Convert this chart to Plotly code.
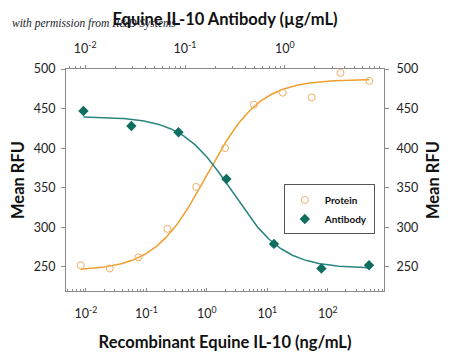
import numpy as np
import plotly.graph_objects as go

# ---- data ----
protein_conc = [0.0082, 0.0247, 0.074, 0.222, 0.667, 2.0, 6.0, 18.0, 54.0, 162.0, 486.0]   # ng/mL
protein_rfu = [252, 248, 262, 298, 351, 400, 455, 470, 464, 495, 485]

antibody_conc = [0.0096, 0.029, 0.086, 0.26, 0.78, 2.33, 7.0]   # ug/mL
antibody_rfu = [447, 428, 420, 361, 279, 248, 252]

# 4-parameter logistic fit parameters (bottom, top, EC50, hill)
protein_fit = dict(bottom=245, top=487, ec50=1.0, hill=1.0)
antibody_fit = dict(bottom=248, top=440, ec50=0.30, hill=1.7)

bottom_tickvals = [0.01, 0.1, 1, 10, 100]
bottom_ticktext = ["10<sup>-2</sup>", "10<sup>-1</sup>", "10<sup>0</sup>", "10<sup>1</sup>", "10<sup>2</sup>"]
top_tickvals = [0.01, 0.1, 1]
top_ticktext = ["10<sup>-2</sup>", "10<sup>-1</sup>", "10<sup>0</sup>"]
y_tickvals = [250, 300, 350, 400, 450, 500]
minor_multipliers = [2, 3, 4, 5, 6, 7, 8, 9]
bottom_decades = [0.001, 0.01, 0.1, 1, 10, 100]
top_decades = [0.001, 0.01, 0.1, 1]

bottom_minor = [d * m for d in bottom_decades for m in minor_multipliers]
top_minor = [d * m for d in top_decades for m in minor_multipliers]


def four_pl(x, p, rising=True):
    x = np.asarray(x)
    if rising:
        return p["bottom"] + (p["top"] - p["bottom"]) / (1 + (p["ec50"] / x) ** p["hill"])
    return p["bottom"] + (p["top"] - p["bottom"]) / (1 + (x / p["ec50"]) ** p["hill"])


px = np.logspace(np.log10(protein_conc[0]), np.log10(protein_conc[-1]), 200)
ax = np.logspace(np.log10(antibody_conc[0]), np.log10(antibody_conc[-1]), 200)

ORANGE = "#F0A030"
ORANGE_M = "#F2AE62"
TEAL = "#2A8580"
TEAL_M = "#0F6E60"
AXIS = "#8a8a8a"
FONT = "Lato, Roboto, sans-serif"

fig = go.Figure()
fig.add_trace(go.Scatter(x=px, y=four_pl(px, protein_fit, True), mode="lines",
                         line=dict(color=ORANGE, width=1.5), showlegend=False,
                         hoverinfo="skip", xaxis="x", yaxis="y"))
fig.add_trace(go.Scatter(x=ax, y=four_pl(ax, antibody_fit, False), mode="lines",
                         line=dict(color=TEAL, width=1.5), showlegend=False,
                         hoverinfo="skip", xaxis="x2", yaxis="y2"))
fig.add_trace(go.Scatter(x=protein_conc, y=protein_rfu, mode="markers", name="Protein",
                         marker=dict(symbol="circle-open", size=7, color=ORANGE_M,
                                     line=dict(width=1, color=ORANGE_M)),
                         xaxis="x", yaxis="y"))
fig.add_trace(go.Scatter(x=antibody_conc, y=antibody_rfu, mode="markers", name="Antibody",
                         marker=dict(symbol="diamond", size=8, color=TEAL_M),
                         xaxis="x2", yaxis="y2"))

yr = [219.5, 500]
tick_font = dict(family=FONT, size=12.5, color="#222")


def tfont(size):
    return dict(family=FONT, size=size, color="#111", weight="bold")


# the page body adds an 8px offset, so the figure is sized and margined to compensate
fig.update_layout(
    width=442, height=349,
    margin=dict(l=58, r=65.5, t=61, b=66),
    paper_bgcolor="white", plot_bgcolor="white",
    xaxis=dict(type="log", range=[-2.33, 2.93], showline=True, linecolor=AXIS, linewidth=1,
               ticks="inside", ticklen=3, tickcolor=AXIS, tickvals=bottom_tickvals,
               ticktext=bottom_ticktext, tickfont=tick_font, showgrid=False, zeroline=False,
               automargin=False,
               minor=dict(ticks="inside", ticklen=2, tickcolor=AXIS, showgrid=False,
                          tickmode="array", tickvals=bottom_minor),
               title=dict(text="Recombinant Equine IL-10 (ng/mL)", font=tfont(16.5), standoff=16),
               ticklabelstandoff=11),
    xaxis2=dict(type="log", range=[-2.193, 0.995], overlaying="x", side="top", showline=True,
                linecolor=AXIS, linewidth=1, ticks="outside", ticklen=3, tickcolor=AXIS,
                tickvals=top_tickvals, ticktext=top_ticktext, tickfont=tick_font,
                showgrid=False, zeroline=False, automargin=False,
                minor=dict(ticks="outside", ticklen=2, tickcolor=AXIS, showgrid=False,
                           tickmode="array", tickvals=top_minor),
                title=dict(text="Equine IL-10 Antibody (µg/mL)", font=tfont(16.5), standoff=8),
                ticklabelstandoff=7),
    yaxis=dict(range=yr, showline=True, linecolor=AXIS, linewidth=1, ticks="outside", ticklen=4,
               tickcolor=AXIS, tickvals=y_tickvals, tickfont=tick_font, showgrid=False,
               zeroline=False, automargin=False, ticklabelstandoff=3,
               title=dict(text="Mean RFU", font=tfont(16.5), standoff=8)),
    yaxis2=dict(range=yr, overlaying="y", side="right", showline=True, linecolor=AXIS, linewidth=1,
                ticks="outside", ticklen=4, tickcolor=AXIS, tickvals=y_tickvals, tickfont=tick_font,
                showgrid=False, zeroline=False, automargin=False, ticklabelstandoff=5,
                title=dict(text="Mean RFU", font=tfont(16.5), standoff=10)),
    legend=dict(x=0.685, y=0.48, xanchor="left", yanchor="top", bgcolor="white",
                bordercolor="#555", borderwidth=1,
                font=dict(family=FONT, size=10, color="#111", weight="bold"),
                itemwidth=30),
    annotations=[dict(text="with permission from R&D Systems", xref="paper", yref="paper",
                      x=-0.175, y=1.205, xanchor="left", yanchor="middle", showarrow=False,
                      font=dict(family="Liberation Serif, DejaVu Serif, serif", size=11.5,
                                color="#1a1a2a", style="italic"))],
)

fig.write_html("out.html")
